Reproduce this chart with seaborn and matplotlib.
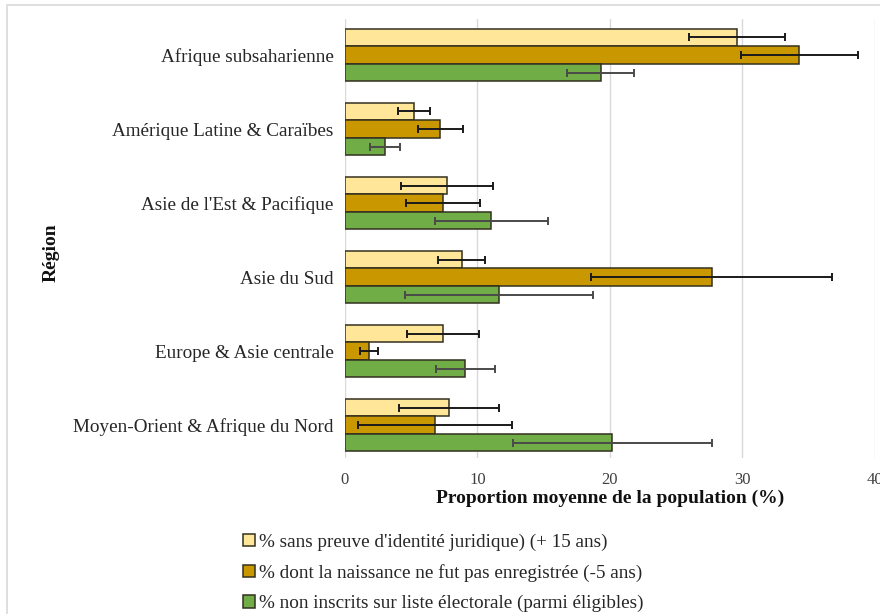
import pandas as pd
import seaborn as sns
import matplotlib.pyplot as plt
from matplotlib.patches import Rectangle

regions = ['Afrique subsaharienne', 'Amérique Latine & Caraïbes', "Asie de l'Est & Pacifique",
           'Asie du Sud', 'Europe & Asie centrale', 'Moyen-Orient & Afrique du Nord']
series = ["% sans preuve d'identité juridique) (+ 15 ans)",
          "% dont la naissance ne fut pas enregistrée (-5 ans)",
          "% non inscrits sur liste électorale (parmi éligibles)"]
sans_id = [29.6, 5.2, 7.7, 8.8, 7.4, 7.85]
sans_id_err = [3.6, 1.2, 3.5, 1.8, 2.7, 3.75]
naissance = [34.3, 7.2, 7.4, 27.7, 1.8, 6.8]
naissance_err = [4.4, 1.7, 2.8, 9.1, 0.7, 5.8]
non_inscrits = [19.3, 3.05, 11.05, 11.6, 9.1, 20.2]
non_inscrits_err = [2.55, 1.13, 4.25, 7.1, 2.2, 7.5]
colors = ['#FFE699', '#C99700', '#70AD47']

values = [sans_id, naissance, non_inscrits]
errors = [sans_id_err, naissance_err, non_inscrits_err]

df = pd.DataFrame({
    'region': regions * 3,
    'serie': [s for s in series for _ in regions],
    'valeur': sans_id + naissance + non_inscrits,
})

sns.set_theme(style='white')
plt.rcParams['font.family'] = ['Liberation Serif', 'DejaVu Serif']

fig = plt.figure(figsize=(8.8, 6.14), dpi=100)
ax = fig.add_axes([0.392, 0.254, 0.602, 0.715])
sns.barplot(data=df, x='valeur', y='region', hue='serie', order=regions, hue_order=series,
            palette=colors, orient='h', width=0.71, errorbar=None, saturation=1,
            edgecolor='#33301f', linewidth=1.1, ax=ax)

err_cols = ['#1a1a1a', '#1a1a1a', '#4a4a4a']
for cont, vals, errs, ec in zip(ax.containers, values, errors, err_cols):
    ys = [p.get_y() + p.get_height() / 2 for p in cont.patches]
    ax.errorbar(vals, ys, xerr=errs, fmt='none', ecolor=ec, elinewidth=1.4,
                capsize=3, capthick=1.4, zorder=5)

ax.set_xlim(0, 40)
ax.set_ylim(5.446, -0.486)
ax.set_xticks([0, 10, 20, 30, 40])
ax.grid(axis='x', color='#D9D9D9', linewidth=1)
ax.set_axisbelow(True)
for s in ax.spines.values():
    s.set_visible(False)
ax.tick_params(axis='x', labelsize=12, colors='#404040', length=0, pad=10)
ax.tick_params(axis='y', labelsize=13.8, colors='#262626', length=0, pad=8)

ax.set_xlabel('Proportion moyenne de la population (%)', fontsize=14, fontweight='bold', color='#111111')
ax.set_ylabel('Région', fontsize=14, fontweight='bold', color='#111111')
ax.yaxis.set_label_coords(-0.539, 0.467)
ax.xaxis.set_label_coords(0.5, -0.073)

handles, labels = ax.get_legend_handles_labels()
ax.get_legend().remove()
fig.legend(handles, labels, loc='upper left', bbox_to_anchor=(0.276, 0.131), frameon=False,
           fontsize=13.8, handlelength=0.65, handleheight=0.65, handletextpad=0.2,
           labelspacing=0.68, borderaxespad=0, borderpad=0)

fig.patches.append(Rectangle((7 / 880, -0.1), 1.2, 1 - 5 / 614 + 0.1, transform=fig.transFigure,
                             fill=False, edgecolor='#D9D9D9', linewidth=1.2))

fig.savefig('out.png', dpi=100)
